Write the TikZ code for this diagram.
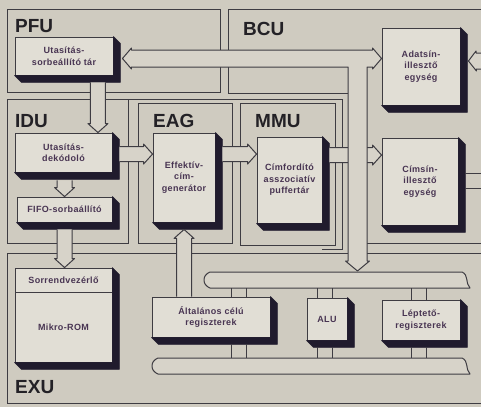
\documentclass[tikz,border=0pt]{standalone}
\usepackage{fontspec}
\setmainfont{Liberation Sans}
\newfontfamily\boxfont[LetterSpace=4]{Liberation Sans}
\usetikzlibrary{calc}
\definecolor{bg}{RGB}{207,203,192}
\definecolor{boxfill}{RGB}{225,222,213}
\definecolor{busfill}{RGB}{215,211,201}
\definecolor{ink}{RGB}{62,60,66}
\definecolor{shade}{RGB}{32,27,45}
\definecolor{txt}{RGB}{72,52,82}
\definecolor{lab}{RGB}{35,33,38}
\tikzset{
  region/.style={draw=ink, line width=1pt},
  blk/.style={draw=ink, line width=0.9pt, fill=boxfill, inner sep=1pt, align=center,
    text=txt, font=\boxfont\bfseries\fontsize{9}{11.5}\selectfont},
  unitlabel/.style={anchor=base west, inner sep=0pt, text=lab, font=\bfseries\fontsize{19}{19}\selectfont},
  busline/.style={draw=ink, line width=1pt, line join=round},
  busbody/.style={fill=busfill},
  link/.style={draw=ink, line width=1pt},
  shadowfill/.style={fill=shade, draw=shade, line width=0.5pt, line join=round},
}
\newcommand\shadowof[1]{\fill[shadowfill] (#1.north east) -- ++(7,7) -- ($(#1.south east)+(7,7)$) -- ($(#1.south west)+(7,7)$) -- (#1.south west) -- (#1.south east) -- cycle;}
\newcommand\busarrow[2]{%
  \coordinate (hb) at ($(#2)!9pt!(#1)$);
  \fill[busbody] ($(#1)!7.5pt!90:(#2)$) -- ($(hb)!7.5pt!90:(#2)$) -- ($(hb)!10pt!90:(#2)$) -- (#2) -- ($(hb)!10pt!-90:(#2)$) -- ($(hb)!7.5pt!-90:(#2)$) -- ($(#1)!7.5pt!-90:(#2)$) -- cycle;
  \draw[busline] ($(#1)!7.5pt!90:(#2)$) -- ($(hb)!7.5pt!90:(#2)$) -- ($(hb)!10pt!90:(#2)$) -- (#2) -- ($(hb)!10pt!-90:(#2)$) -- ($(hb)!7.5pt!-90:(#2)$) -- ($(#1)!7.5pt!-90:(#2)$);
}
\begin{document}
\begin{tikzpicture}[x=1pt,y=-1pt]
\fill[bg] (0,0) rectangle (481,407);
\useasboundingbox (0,0) rectangle (481,407);
\coordinate (rim) at (481,0);
\coordinate (ubb) at (0,288);
\coordinate (lbt) at (0,358);
% ---- regions
\draw[region] (7,9) rectangle (220,92);
\draw[region] (481,9) -- (228,9) -- (228,93) -- (348,93);
\draw[region] (367,243) -- (481,243);
\draw[region] (7,99) -- (342,99) -- (342,249) -- (322,249);
\draw[region] (7,99) rectangle (128,243);
\draw[region] (138,103) rectangle (232,243);
\draw[region] (240,103) rectangle (335,245);
\draw[region] (481,253) -- (7,253) -- (7,403) -- (481,403);
% ---- unit labels
\node[unitlabel] (lpfu) at (15,32) {PFU};
\node[unitlabel] (lbcu) at (243,35) {BCU};
\node[unitlabel] (lidu) at (15,127) {IDU};
\node[unitlabel] (leag) at (153,127) {EAG};
\node[unitlabel] (lmmu) at (255,127) {MMU};
\node[unitlabel] (lexu) at (15,393) {EXU};
% ---- EXU bars
\filldraw[busline, busbody] (210,272) -- (462,272) .. controls (469,275) and (465,283) .. (470,288) -- (210,288) .. controls (202,285) and (202,275) .. (210,272) -- cycle;
\filldraw[busline, busbody] (158,358) -- (462,358) .. controls (469,361) and (465,369) .. (470,374) -- (158,374) .. controls (150,371) and (150,361) .. (158,358) -- cycle;
% ---- blocks
\node[blk, minimum width=98pt, minimum height=38pt] (pfubox) at (64,56) {Utasítás-\\sorbeállító tár};
\node[blk, minimum width=97pt, minimum height=39pt] (dek) at (63.5,152.5) {Utasítás-\\dekódoló};
\node[blk, minimum width=95pt, minimum height=25pt] (fifo) at (64.5,209.5) {FIFO-sorbaállító};
\node[blk, minimum width=62pt, minimum height=89pt] (eagbox) at (184,177.5) {Effektív-\\cím-\\generátor};
\node[blk, minimum width=65pt, minimum height=86pt] (mmubox) at (289.5,180) {Címfordító\\asszociatív\\puffertár};
\node[blk, minimum width=78pt, minimum height=77pt] (adat) at (421,66.5) {Adatsín-\\illesztő\\egység};
\node[blk, minimum width=76pt, minimum height=87pt] (cim) at (420,181.5) {Címsín-\\illesztő\\egység};
\node[blk, minimum width=97pt, minimum height=24pt] (seqtop) at (63.5,280) {Sorrendvezérlő};
\node[blk, minimum width=97pt, minimum height=70pt] (rom) at (63.5,327) {Mikro-ROM};
\node[blk, minimum width=118pt, minimum height=40pt] (gpr) at (211,317) {Általános célú\\regiszterek};
\node[blk, minimum width=40pt, minimum height=42pt] (alu) at (327,319) {ALU};
\node[blk, minimum width=78pt, minimum height=40pt] (shift) at (421,320) {Léptető-\\regiszterek};
\foreach \b in {pfubox,dek,fifo,eagbox,mmubox,adat,cim,gpr,alu,shift}{\shadowof{\b}}
\fill[shadowfill] (seqtop.north east) -- ++(7,7) -- ($(rom.south east)+(7,7)$) -- ($(rom.south west)+(7,7)$) -- (rom.south west) -- (rom.south east) -- cycle;
% ---- narrow links to the EXU bars
\foreach \n/\o in {gpr/80, alu/11, shift/30}{
  \draw[link] ($(\n.north west)+(\o,0)$) -- ($(\n.north west |- ubb)+(\o,0)$);
  \draw[link] ($(\n.north west)+(\o+15,0)$) -- ($(\n.north west |- ubb)+(\o+15,0)$);
  \draw[link] ($(\n.south west)+(\o,7)$) -- ($(\n.south west |- lbt)+(\o,0)$);
  \draw[link] ($(\n.south west)+(\o+15,7)$) -- ($(\n.south west |- lbt)+(\o+15,0)$);
}
% ---- bus arrows
\coordinate (s1) at ($(pfubox.south east)+(-15.5,7)$);
\coordinate (t1) at (s1 |- dek.north);
\busarrow{s1}{t1}
\coordinate (s2) at ($(dek.south west)+(50,8)$);
\coordinate (t2) at (s2 |- fifo.north);
\busarrow{s2}{t2}
\coordinate (s3) at ($(fifo.south west)+(48,7)$);
\coordinate (t3) at (s3 |- seqtop.north);
\busarrow{s3}{t3}
\coordinate (s4) at ($(dek.north east)+(7,21.5)$);
\coordinate (t4) at (s4 -| eagbox.west);
\busarrow{s4}{t4}
\coordinate (s5) at ($(eagbox.north east)+(7,21.5)$);
\coordinate (t5) at (s5 -| mmubox.west);
\busarrow{s5}{t5}
\coordinate (s6) at ($(mmubox.north east)+(7,18.5)$);
\coordinate (t6) at (s6 -| cim.west);
\busarrow{s6}{t6}
\coordinate (s7) at ($(gpr.north west)+(32.5,0)$);
\coordinate (t7) at ($(s7 |- eagbox.south)+(0,7)$);
\busarrow{s7}{t7}
% ---- main internal bus PFU <-> BCU, branch down to EXU
\coordinate (L) at ($(pfubox.east)+(9,2.5)$);
\coordinate (R) at (L -| adat.west);
\coordinate (D) at (357.5,271);
\filldraw[busline, busbody] (L) -- ++(9,-10.5) -- ++(0,2) -- ($(R)+(-9,-8.5)$) -- ++(0,-2) -- (R)
  -- ++(-9,10.5) -- ++(0,-2) -- (367,67) -- (367,261) -- ++(2.5,0) -- (D) -- (345.5,261) -- ++(2.5,0)
  -- (348,67) -- ($(L)+(9,8.5)$) -- ++(0,2) -- cycle;
% ---- external buses on the right
\coordinate (ad) at ($(adat.east)+(8,-5.5)$);
\fill[busbody] (ad -| rim) ++(0,-8) -- ++(-5,0) -- ++(0,-2) -- (ad) -- ++(8,10) -- ++(0,-2) -- ++(5,0) -- cycle;
\draw[busline] (ad -| rim) ++(0,-8) -- ++(-5,0) -- ++(0,-2) -- (ad) -- ++(8,10) -- ++(0,-2) -- ++(5,0);
\coordinate (ce1) at ($(cim.east)+(7,-8.5)$);
\coordinate (ce2) at ($(cim.east)+(7,6.5)$);
\draw[link] (ce1) -- (ce1 -| rim);
\draw[link] (ce2) -- (ce2 -| rim);
\end{tikzpicture}
\end{document}
